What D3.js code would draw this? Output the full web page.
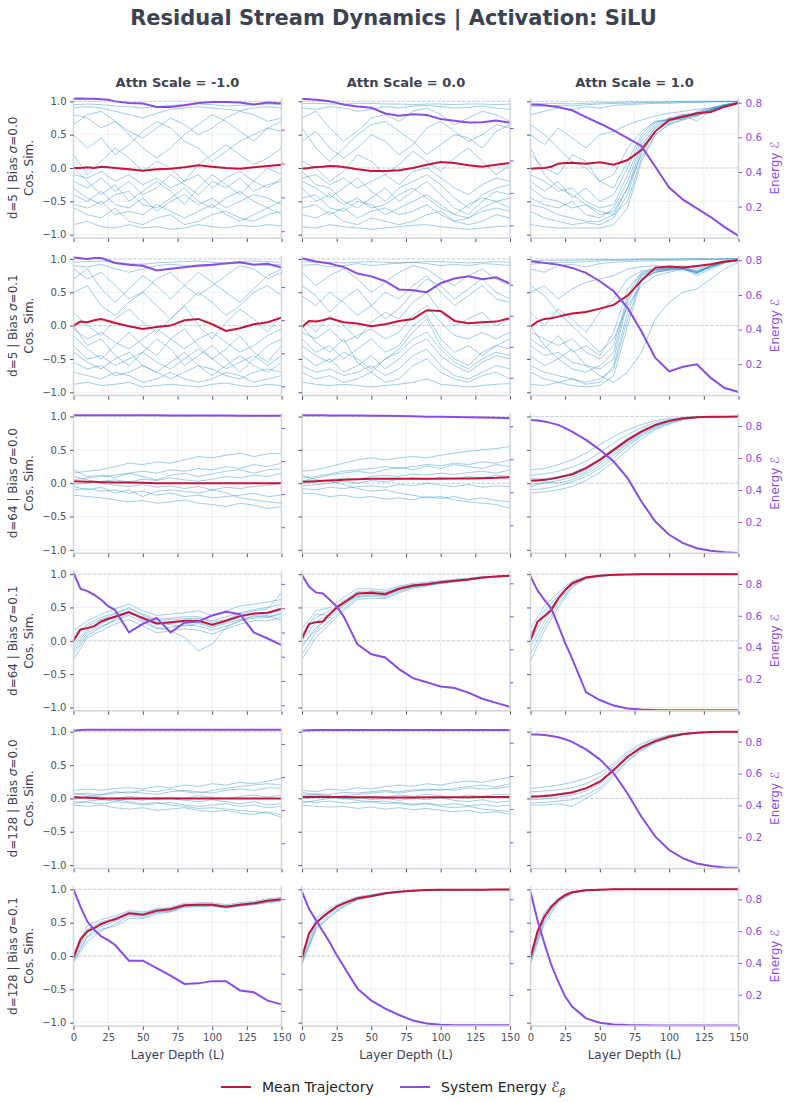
<!DOCTYPE html>
<html>
<head>
<meta charset="utf-8">
<script src="https://cdn.jsdelivr.net/npm/d3@7"></script>
<style>
  body { margin: 0; background: #fff; }
  svg { display: block; font-family: "DejaVu Sans", sans-serif; }
</style>
</head>
<body>
<div id="chart"></div>
<script>
// ---- data ----
const rowDims = [5, 5, 64, 64, 128, 128];
const rowSigmas = ["0.0", "0.1", "0.0", "0.1", "0.0", "0.1"];
const attnScales = ["-1.0", "0.0", "1.0"];
const xTicks = [0, 25, 50, 75, 100, 125, 150];
const yTicks = [-1, -0.5, 0, 0.5, 1];

// layers used by the mean / energy curves
const layers = [0, 5, 10, 15, 20, 25, 30, 40, 50, 60, 70, 80, 90, 100, 110, 120, 130, 140, 150];
// layers used by the individual token trajectories
const trajLayers = [0, 10, 20, 30, 40, 50, 60, 70, 80, 90, 100, 110, 120, 130, 140, 150];

// mean cosine similarity, one array per column (attn -1, 0, 1)
const mean_d5_s0 = [
  [0.0, 0.0, 0.01, 0.0, 0.02, 0.01, 0.0, -0.02, -0.04, -0.02, -0.01, 0.01, 0.04, 0.02, 0.0, -0.01, 0.01, 0.03, 0.05],
  [-0.01, 0.0, 0.015, 0.02, 0.03, 0.025, 0.015, -0.02, -0.045, -0.045, -0.035, 0.0, 0.05, 0.09, 0.075, 0.04, 0.02, 0.05, 0.075],
  [-0.01, -0.005, 0.0, 0.02, 0.065, 0.075, 0.08, 0.065, 0.085, 0.05, 0.12, 0.27, 0.55, 0.72, 0.77, 0.82, 0.84, 0.92, 0.975]
];
const mean_d5_s1 = [
  [0.0, 0.06, 0.05, 0.08, 0.1, 0.07, 0.04, -0.01, -0.05, -0.02, 0.0, 0.08, 0.1, 0.02, -0.08, -0.04, 0.02, 0.05, 0.12],
  [-0.02, 0.07, 0.06, 0.08, 0.11, 0.08, 0.05, 0.03, -0.01, 0.02, 0.07, 0.1, 0.23, 0.22, 0.07, 0.035, 0.05, 0.06, 0.11],
  [-0.015, 0.06, 0.1, 0.11, 0.135, 0.16, 0.18, 0.205, 0.255, 0.31, 0.45, 0.675, 0.87, 0.885, 0.87, 0.895, 0.92, 0.96, 0.98]
];
const mean_d64_s0 = [
  [0.03, 0.025, 0.02, 0.02, 0.015, 0.015, 0.01, 0.01, 0.005, 0.0, 0.0, 0.0, 0.0, 0.0, 0.0, 0.0, 0.0, 0.0, 0.0],
  [0.02, 0.025, 0.03, 0.035, 0.04, 0.045, 0.05, 0.06, 0.065, 0.065, 0.065, 0.065, 0.065, 0.065, 0.07, 0.07, 0.075, 0.08, 0.09],
  [0.035, 0.04, 0.05, 0.065, 0.085, 0.11, 0.135, 0.225, 0.35, 0.5, 0.65, 0.775, 0.875, 0.935, 0.975, 0.99, 0.997, 0.998, 1.0]
];
const mean_d64_s1 = [
  [0.0, 0.17, 0.19, 0.22, 0.29, 0.33, 0.36, 0.43, 0.34, 0.26, 0.28, 0.3, 0.3, 0.24, 0.3, 0.37, 0.41, 0.42, 0.48],
  [0.035, 0.25, 0.28, 0.29, 0.4, 0.5, 0.57, 0.71, 0.72, 0.7, 0.78, 0.83, 0.85, 0.88, 0.9, 0.92, 0.95, 0.965, 0.975],
  [0.01, 0.285, 0.37, 0.46, 0.635, 0.76, 0.86, 0.95, 0.975, 0.99, 0.995, 0.998, 0.999, 1, 1, 1, 1, 1, 1]
];
const mean_d128_s0 = [
  [0.02, 0.015, 0.01, 0.005, 0.0, 0.0, 0.0, 0.0, 0.0, 0.0, 0.0, 0.0, 0.0, 0.0, 0.0, 0.0, 0.0, 0.0, 0.0],
  [0.02, 0.02, 0.02, 0.02, 0.02, 0.02, 0.02, 0.018, 0.016, 0.015, 0.015, 0.015, 0.016, 0.017, 0.018, 0.019, 0.02, 0.02, 0.02],
  [0.025, 0.03, 0.035, 0.045, 0.06, 0.075, 0.09, 0.15, 0.25, 0.425, 0.625, 0.765, 0.86, 0.925, 0.965, 0.985, 0.995, 1, 1]
];
const mean_d128_s1 = [
  [-0.03, 0.25, 0.37, 0.42, 0.48, 0.52, 0.55, 0.64, 0.62, 0.68, 0.7, 0.76, 0.77, 0.77, 0.74, 0.77, 0.79, 0.83, 0.85],
  [-0.03, 0.34, 0.49, 0.59, 0.665, 0.74, 0.79, 0.865, 0.9, 0.94, 0.965, 0.98, 0.99, 0.992, 0.994, 0.995, 0.995, 0.996, 0.996],
  [-0.03, 0.365, 0.59, 0.74, 0.84, 0.915, 0.955, 0.985, 0.995, 1, 1, 1, 1, 1, 1, 1, 1, 1, 1]
];

// system energy, one array per column
const energy_d5_s0 = [
  [0.983, 0.984, 0.983, 0.982, 0.98, 0.976, 0.967, 0.958, 0.954, 0.934, 0.934, 0.944, 0.957, 0.963, 0.963, 0.96, 0.948, 0.96, 0.954],
  [0.981, 0.978, 0.974, 0.97, 0.965, 0.955, 0.945, 0.932, 0.925, 0.89, 0.876, 0.885, 0.88, 0.855, 0.845, 0.834, 0.836, 0.846, 0.833],
  [0.79, 0.788, 0.785, 0.78, 0.775, 0.765, 0.756, 0.717, 0.68, 0.64, 0.595, 0.55, 0.43, 0.31, 0.24, 0.19, 0.14, 0.082, 0.031]
];
const energy_d5_s1 = [
  [0.978, 0.974, 0.97, 0.975, 0.975, 0.96, 0.945, 0.935, 0.928, 0.9, 0.91, 0.92, 0.93, 0.935, 0.943, 0.95, 0.935, 0.94, 0.918],
  [0.971, 0.96, 0.95, 0.943, 0.937, 0.925, 0.915, 0.872, 0.854, 0.823, 0.77, 0.765, 0.752, 0.81, 0.84, 0.855, 0.835, 0.848, 0.808],
  [0.794, 0.79, 0.785, 0.78, 0.775, 0.765, 0.756, 0.727, 0.679, 0.621, 0.525, 0.39, 0.236, 0.159, 0.185, 0.2, 0.121, 0.063, 0.04]
];
const energy_d64_s0 = [
  [0.877, 0.877, 0.877, 0.877, 0.876, 0.876, 0.876, 0.876, 0.876, 0.876, 0.875, 0.875, 0.875, 0.875, 0.875, 0.874, 0.874, 0.874, 0.874],
  [0.866, 0.866, 0.866, 0.866, 0.865, 0.865, 0.865, 0.865, 0.864, 0.863, 0.862, 0.86, 0.858, 0.857, 0.856, 0.855, 0.853, 0.851, 0.848],
  [0.838, 0.834, 0.828, 0.818, 0.807, 0.787, 0.765, 0.713, 0.651, 0.578, 0.474, 0.328, 0.203, 0.12, 0.068, 0.036, 0.02, 0.011, 0.007]
];
const energy_d64_s1 = [
  [0.846, 0.78, 0.77, 0.755, 0.735, 0.708, 0.692, 0.6, 0.635, 0.66, 0.6, 0.64, 0.645, 0.67, 0.685, 0.675, 0.6, 0.575, 0.548],
  [0.85, 0.78, 0.745, 0.738, 0.7, 0.66, 0.6, 0.43, 0.37, 0.35, 0.28, 0.225, 0.2, 0.175, 0.165, 0.137, 0.1, 0.075, 0.051],
  [0.849, 0.76, 0.7, 0.645, 0.54, 0.43, 0.33, 0.12, 0.07, 0.035, 0.017, 0.01, 0.007, 0.006, 0.005, 0.005, 0.005, 0.005, 0.005]
];
const energy_d128_s0 = [
  [0.88, 0.884, 0.886, 0.886, 0.886, 0.886, 0.886, 0.886, 0.886, 0.886, 0.886, 0.886, 0.886, 0.886, 0.886, 0.886, 0.886, 0.886, 0.886],
  [0.873, 0.875, 0.876, 0.876, 0.876, 0.876, 0.876, 0.876, 0.876, 0.876, 0.876, 0.876, 0.876, 0.876, 0.876, 0.876, 0.876, 0.876, 0.876],
  [0.845, 0.844, 0.841, 0.835, 0.827, 0.815, 0.799, 0.751, 0.689, 0.601, 0.475, 0.329, 0.204, 0.12, 0.068, 0.036, 0.02, 0.011, 0.007]
];
const energy_d128_s1 = [
  [0.853, 0.76, 0.68, 0.635, 0.6, 0.58, 0.554, 0.47, 0.47, 0.43, 0.39, 0.345, 0.348, 0.36, 0.36, 0.31, 0.3, 0.255, 0.235],
  [0.847, 0.74, 0.67, 0.6, 0.53, 0.45, 0.38, 0.24, 0.165, 0.115, 0.075, 0.04, 0.022, 0.014, 0.011, 0.01, 0.01, 0.01, 0.01],
  [0.848, 0.67, 0.523, 0.387, 0.282, 0.188, 0.125, 0.051, 0.024, 0.013, 0.009, 0.007, 0.006, 0.006, 0.006, 0.006, 0.006, 0.006, 0.006]
];

// limits of the energy (right) axis in each panel
const energyRange_d5_s0 = [[0.16, 0.987], [0.122, 0.985], [0.019, 0.827]];
const energyRange_d5_s1 = [[0.144, 0.99], [0.085, 0.988], [0.019, 0.827]];
const energyRange_d64_s0 = [[0.043, 0.889], [0.031, 0.879], [0.005, 0.88]];
const energyRange_d64_s1 = [[0.277, 0.854], [0.027, 0.876], [0.002, 0.883]];
const energyRange_d128_s0 = [[0.048, 0.894], [0.043, 0.886], [0.005, 0.883]];
const energyRange_d128_s1 = [[0.119, 0.871], [0.006, 0.883], [0.003, 0.884]];
const energyTicks = [0.2, 0.4, 0.6, 0.8];
const energyTicksFine = [0.3, 0.4, 0.5, 0.6, 0.7, 0.8];

// individual token trajectories (a sample of the bundle), per column
const traj_d5_s0 = [
  [
    [0.95, 0.96, 0.95, 0.93, 0.92, 0.9, 0.92, 0.94, 0.95, 0.96, 0.95, 0.93, 0.94, 0.95, 0.96, 0.95],
    [0.8, 0.75, 0.6, 0.7, 0.55, 0.45, 0.6, 0.75, 0.65, 0.5, 0.6, 0.75, 0.85, 0.8, 0.7, 0.75],
    [0.5, 0.3, 0.45, 0.2, 0.35, 0.55, 0.7, 0.6, 0.4, 0.3, 0.1, 0.25, 0.4, 0.5, 0.6, 0.55],
    [0.2, -0.1, 0.1, 0.3, 0.15, -0.05, 0.1, 0.0, -0.2, 0.05, 0.2, 0.35, 0.2, 0.05, 0.15, 0.3],
    [-0.2, -0.3, -0.15, -0.35, -0.2, -0.4, -0.3, -0.1, -0.25, -0.4, -0.2, -0.3, -0.15, -0.35, -0.25, -0.2],
    [-0.4, -0.5, -0.35, -0.55, -0.6, -0.45, -0.65, -0.5, -0.4, -0.55, -0.45, -0.6, -0.5, -0.4, -0.45, -0.55],
    [-0.6, -0.7, -0.75, -0.6, -0.8, -0.85, -0.75, -0.7, -0.85, -0.8, -0.7, -0.65, -0.75, -0.8, -0.7, -0.65],
    [-0.85, -0.8, -0.88, -0.9, -0.85, -0.9, -0.88, -0.92, -0.9, -0.85, -0.88, -0.9, -0.86, -0.88, -0.85, -0.87],
    [0.0, -0.2, -0.4, -0.25, -0.5, -0.35, -0.2, -0.35, -0.55, -0.3, -0.1, -0.25, -0.4, -0.2, 0.0, -0.1],
    [0.65, 0.8, 0.85, 0.7, 0.5, 0.3, 0.15, 0.3, 0.5, 0.65, 0.8, 0.7, 0.55, 0.4, 0.6, 0.7],
    [-0.3, -0.45, -0.55, -0.4, -0.35, -0.55, -0.6, -0.45, -0.3, -0.5, -0.6, -0.45, -0.35, -0.5, -0.6, -0.5],
    [-0.55, -0.6, -0.5, -0.7, -0.65, -0.7, -0.55, -0.65, -0.75, -0.65, -0.55, -0.7, -0.8, -0.7, -0.6, -0.7],
    [0.9, 0.92, 0.9, 0.85, 0.8, 0.75, 0.82, 0.88, 0.9, 0.92, 0.9, 0.88, 0.86, 0.9, 0.92, 0.9],
    [-0.1, -0.15, -0.05, -0.2, -0.1, -0.25, -0.15, -0.3, -0.2, -0.1, -0.3, -0.15, -0.05, -0.2, -0.3, -0.15]
  ],
  [
    [0.97, 0.97, 0.96, 0.96, 0.97, 0.97, 0.96, 0.96, 0.95, 0.96, 0.96, 0.95, 0.96, 0.96, 0.95, 0.96],
    [0.75, 0.85, 0.6, 0.4, 0.55, 0.75, 0.8, 0.7, 0.85, 0.9, 0.8, 0.65, 0.75, 0.85, 0.8, 0.7],
    [0.4, 0.55, 0.3, 0.15, 0.3, 0.5, 0.4, 0.2, 0.35, 0.6, 0.7, 0.55, 0.4, 0.5, 0.65, 0.6],
    [0.1, 0.0, -0.2, -0.05, 0.2, 0.1, -0.1, 0.05, 0.25, 0.1, -0.05, 0.15, 0.3, 0.1, -0.1, 0.05],
    [-0.2, -0.3, -0.45, -0.3, -0.15, -0.35, -0.5, -0.3, -0.2, -0.1, -0.25, -0.45, -0.6, -0.4, -0.3, -0.25],
    [-0.45, -0.4, -0.6, -0.65, -0.5, -0.55, -0.7, -0.6, -0.5, -0.4, -0.55, -0.7, -0.75, -0.6, -0.5, -0.45],
    [-0.7, -0.75, -0.65, -0.8, -0.85, -0.75, -0.8, -0.85, -0.8, -0.7, -0.65, -0.8, -0.85, -0.8, -0.7, -0.75],
    [-0.88, -0.9, -0.85, -0.88, -0.9, -0.92, -0.9, -0.88, -0.86, -0.85, -0.88, -0.9, -0.92, -0.9, -0.88, -0.87],
    [-0.05, -0.25, -0.3, -0.5, -0.6, -0.45, -0.3, -0.5, -0.35, -0.2, -0.4, -0.6, -0.7, -0.5, -0.35, -0.4],
    [0.6, 0.3, 0.1, 0.3, 0.5, 0.65, 0.7, 0.55, 0.4, 0.2, 0.35, 0.5, 0.45, 0.3, 0.55, 0.65],
    [-0.3, -0.5, -0.4, -0.55, -0.45, -0.6, -0.55, -0.4, -0.3, -0.45, -0.6, -0.7, -0.55, -0.45, -0.5, -0.6],
    [-0.6, -0.55, -0.7, -0.6, -0.75, -0.65, -0.6, -0.7, -0.65, -0.55, -0.7, -0.8, -0.75, -0.65, -0.6, -0.65],
    [0.9, 0.88, 0.92, 0.9, 0.85, 0.88, 0.92, 0.9, 0.93, 0.94, 0.92, 0.9, 0.91, 0.93, 0.9, 0.88],
    [-0.15, -0.1, -0.25, -0.15, -0.3, -0.2, -0.1, -0.25, -0.05, 0.0, -0.15, -0.3, -0.4, -0.25, -0.15, -0.2]
  ],
  [
    [0.96, 0.97, 0.97, 0.96, 0.97, 0.98, 0.98, 0.99, 0.99, 0.99, 0.99, 1.0, 1.0, 1.0, 1.0, 1.0],
    [0.8, 0.85, 0.9, 0.88, 0.92, 0.9, 0.94, 0.95, 0.96, 0.97, 0.97, 0.98, 0.98, 0.99, 0.99, 1.0],
    [0.5, 0.35, 0.6, 0.45, 0.3, 0.5, 0.55, 0.65, 0.72, 0.78, 0.82, 0.85, 0.88, 0.9, 0.95, 0.99],
    [0.2, 0.0, -0.1, 0.2, 0.1, -0.2, -0.1, 0.3, 0.55, 0.7, 0.72, 0.8, 0.78, 0.88, 0.93, 0.98],
    [-0.2, -0.35, -0.2, -0.45, -0.3, -0.5, -0.4, 0.0, 0.45, 0.68, 0.75, 0.72, 0.85, 0.9, 0.95, 0.98],
    [-0.45, -0.55, -0.6, -0.5, -0.7, -0.75, -0.6, -0.2, 0.35, 0.6, 0.72, 0.75, 0.8, 0.88, 0.94, 0.98],
    [-0.65, -0.75, -0.8, -0.85, -0.82, -0.85, -0.75, -0.4, 0.25, 0.55, 0.68, 0.78, 0.82, 0.87, 0.93, 0.98],
    [-0.85, -0.88, -0.9, -0.9, -0.9, -0.9, -0.85, -0.6, 0.1, 0.5, 0.65, 0.72, 0.78, 0.86, 0.93, 0.97],
    [0.3, -0.1, -0.3, -0.4, -0.55, -0.65, -0.7, -0.3, 0.3, 0.62, 0.75, 0.8, 0.83, 0.9, 0.95, 0.99],
    [0.65, 0.5, 0.3, 0.1, 0.0, -0.2, -0.3, 0.1, 0.5, 0.7, 0.72, 0.8, 0.7, 0.86, 0.94, 0.98],
    [-0.3, -0.45, -0.5, -0.6, -0.55, -0.7, -0.65, -0.3, 0.2, 0.55, 0.7, 0.76, 0.8, 0.87, 0.94, 0.98],
    [-0.55, -0.6, -0.7, -0.75, -0.8, -0.8, -0.7, -0.5, 0.15, 0.5, 0.66, 0.74, 0.79, 0.86, 0.93, 0.98],
    [0.92, 0.93, 0.94, 0.93, 0.95, 0.96, 0.97, 0.97, 0.98, 0.98, 0.99, 0.99, 0.99, 1.0, 1.0, 1.0],
    [-0.1, -0.2, -0.35, -0.3, -0.5, -0.6, -0.55, -0.1, 0.4, 0.65, 0.74, 0.78, 0.82, 0.88, 0.94, 0.98]
  ]
];
const traj_d5_s1 = [
  [
    [0.95, 0.96, 0.97, 0.95, 0.93, 0.92, 0.94, 0.95, 0.96, 0.97, 0.95, 0.94, 0.96, 0.97, 0.96, 0.95],
    [0.85, 0.7, 0.8, 0.6, 0.4, 0.5, 0.7, 0.8, 0.6, 0.45, 0.6, 0.75, 0.9, 0.85, 0.7, 0.8],
    [0.5, 0.6, 0.3, 0.15, 0.35, 0.5, 0.3, 0.1, 0.3, 0.5, 0.35, 0.15, 0.3, 0.5, 0.6, 0.45],
    [0.2, 0.0, -0.15, 0.1, 0.25, 0.05, -0.1, 0.1, 0.3, 0.0, -0.2, 0.05, 0.25, 0.1, -0.1, 0.15],
    [-0.15, -0.35, -0.5, -0.3, -0.1, -0.3, -0.45, -0.2, -0.05, -0.3, -0.5, -0.35, -0.15, -0.4, -0.55, -0.3],
    [-0.4, -0.55, -0.65, -0.5, -0.4, -0.6, -0.7, -0.55, -0.4, -0.6, -0.75, -0.6, -0.45, -0.6, -0.7, -0.55],
    [-0.7, -0.75, -0.8, -0.7, -0.75, -0.85, -0.8, -0.7, -0.8, -0.85, -0.8, -0.7, -0.75, -0.85, -0.8, -0.75],
    [-0.88, -0.85, -0.9, -0.88, -0.85, -0.92, -0.9, -0.88, -0.9, -0.92, -0.88, -0.86, -0.9, -0.92, -0.88, -0.9],
    [0.0, -0.3, -0.2, -0.45, -0.6, -0.4, -0.2, -0.35, -0.6, -0.45, -0.3, -0.5, -0.7, -0.5, -0.3, -0.2],
    [0.7, 0.85, 0.55, 0.35, 0.55, 0.75, 0.6, 0.4, 0.6, 0.8, 0.65, 0.5, 0.35, 0.55, 0.75, 0.85],
    [-0.3, -0.5, -0.45, -0.6, -0.5, -0.4, -0.55, -0.65, -0.5, -0.35, -0.5, -0.65, -0.55, -0.45, -0.6, -0.45],
    [-0.55, -0.65, -0.6, -0.75, -0.7, -0.6, -0.7, -0.8, -0.7, -0.6, -0.65, -0.75, -0.8, -0.7, -0.65, -0.7],
    [0.9, 0.88, 0.92, 0.85, 0.8, 0.85, 0.9, 0.92, 0.9, 0.88, 0.9, 0.92, 0.94, 0.92, 0.9, 0.92],
    [-0.05, -0.2, -0.1, -0.25, -0.35, -0.2, -0.05, -0.2, -0.35, -0.2, -0.1, -0.25, -0.4, -0.3, -0.15, -0.05]
  ],
  [
    [0.96, 0.95, 0.95, 0.94, 0.95, 0.96, 0.95, 0.94, 0.95, 0.96, 0.96, 0.95, 0.94, 0.95, 0.96, 0.95],
    [0.8, 0.6, 0.75, 0.85, 0.7, 0.5, 0.65, 0.8, 0.9, 0.85, 0.7, 0.6, 0.75, 0.85, 0.7, 0.6],
    [0.45, 0.3, 0.5, 0.35, 0.15, 0.3, 0.5, 0.4, 0.6, 0.75, 0.5, 0.3, 0.45, 0.6, 0.4, 0.35],
    [0.1, -0.1, 0.15, 0.0, -0.2, 0.05, 0.2, 0.1, 0.35, 0.5, 0.2, 0.0, 0.1, 0.2, 0.0, 0.1],
    [-0.2, -0.4, -0.3, -0.5, -0.35, -0.2, -0.4, -0.3, 0.0, 0.15, -0.2, -0.4, -0.3, -0.45, -0.3, -0.2],
    [-0.45, -0.6, -0.5, -0.7, -0.6, -0.45, -0.65, -0.5, -0.3, -0.2, -0.45, -0.6, -0.7, -0.55, -0.45, -0.5],
    [-0.7, -0.8, -0.75, -0.85, -0.8, -0.7, -0.85, -0.8, -0.6, -0.5, -0.7, -0.8, -0.85, -0.75, -0.7, -0.8],
    [-0.85, -0.88, -0.9, -0.88, -0.9, -0.92, -0.9, -0.88, -0.85, -0.8, -0.88, -0.9, -0.92, -0.9, -0.88, -0.87],
    [0.0, -0.25, -0.4, -0.2, -0.55, -0.7, -0.5, -0.35, -0.1, 0.1, -0.3, -0.5, -0.6, -0.4, -0.3, -0.35],
    [0.6, 0.45, 0.2, 0.4, 0.55, 0.3, 0.1, 0.25, 0.5, 0.7, 0.6, 0.4, 0.55, 0.7, 0.5, 0.4],
    [-0.3, -0.45, -0.55, -0.4, -0.5, -0.65, -0.5, -0.4, -0.2, -0.1, -0.35, -0.55, -0.65, -0.5, -0.4, -0.45],
    [-0.6, -0.7, -0.65, -0.75, -0.7, -0.6, -0.75, -0.65, -0.45, -0.35, -0.6, -0.75, -0.8, -0.7, -0.6, -0.65],
    [0.9, 0.92, 0.88, 0.9, 0.93, 0.9, 0.92, 0.94, 0.95, 0.93, 0.9, 0.92, 0.9, 0.93, 0.92, 0.9],
    [-0.1, -0.2, -0.05, -0.25, -0.15, -0.05, -0.2, -0.1, 0.15, 0.3, 0.05, -0.15, -0.2, -0.1, -0.2, -0.1]
  ],
  [
    [0.97, 0.98, 0.98, 0.98, 0.99, 0.99, 0.99, 0.99, 1.0, 1.0, 1.0, 1.0, 1.0, 1.0, 1.0, 1.0],
    [0.85, 0.8, 0.9, 0.92, 0.88, 0.93, 0.95, 0.96, 0.97, 0.97, 0.98, 0.98, 0.99, 0.99, 1.0, 1.0],
    [0.5, 0.6, 0.4, 0.55, 0.65, 0.7, 0.75, 0.85, 0.88, 0.9, 0.88, 0.9, 0.85, 0.92, 0.96, 0.99],
    [0.2, 0.0, 0.25, 0.1, -0.1, 0.2, 0.4, 0.7, 0.82, 0.85, 0.87, 0.86, 0.8, 0.9, 0.96, 0.99],
    [-0.2, -0.35, -0.15, -0.4, -0.3, -0.45, -0.1, 0.55, 0.78, 0.84, 0.86, 0.88, 0.82, 0.9, 0.95, 0.99],
    [-0.45, -0.6, -0.5, -0.65, -0.7, -0.6, -0.4, 0.4, 0.75, 0.82, 0.85, 0.87, 0.78, 0.9, 0.95, 0.99],
    [-0.7, -0.8, -0.85, -0.8, -0.88, -0.85, -0.6, 0.2, 0.72, 0.8, 0.84, 0.85, 0.8, 0.88, 0.95, 0.98],
    [-0.88, -0.9, -0.85, -0.9, -0.92, -0.9, -0.75, 0.0, 0.68, 0.8, 0.83, 0.84, 0.8, 0.87, 0.94, 0.98],
    [0.0, -0.3, -0.5, -0.35, -0.6, -0.75, -0.85, -0.7, -0.4, 0.1, 0.35, 0.5, 0.55, 0.7, 0.85, 0.95],
    [0.6, 0.45, 0.2, 0.0, -0.2, -0.4, -0.2, 0.3, 0.6, 0.75, 0.8, 0.85, 0.75, 0.85, 0.94, 0.98],
    [-0.3, -0.45, -0.4, -0.55, -0.6, -0.65, -0.5, 0.35, 0.76, 0.83, 0.85, 0.86, 0.8, 0.89, 0.95, 0.99],
    [-0.6, -0.7, -0.75, -0.8, -0.85, -0.8, -0.65, 0.1, 0.7, 0.8, 0.84, 0.85, 0.78, 0.88, 0.95, 0.98],
    [0.92, 0.94, 0.95, 0.95, 0.96, 0.97, 0.98, 0.98, 0.99, 0.99, 0.99, 1.0, 1.0, 1.0, 1.0, 1.0],
    [-0.1, -0.2, -0.3, -0.2, -0.4, -0.5, -0.3, 0.45, 0.8, 0.84, 0.86, 0.87, 0.82, 0.9, 0.95, 0.99]
  ]
];
const traj_d64_s0 = [
  [
    [0.15, 0.18, 0.2, 0.25, 0.3, 0.28, 0.32, 0.3, 0.35, 0.4, 0.38, 0.42, 0.45, 0.4, 0.44, 0.45],
    [0.05, 0.08, 0.1, 0.12, 0.15, 0.18, 0.15, 0.2, 0.18, 0.22, 0.2, 0.25, 0.22, 0.28, 0.25, 0.3],
    [-0.02, 0.0, 0.03, 0.05, 0.02, 0.06, 0.04, 0.08, 0.05, 0.03, 0.06, 0.1, 0.08, 0.12, 0.1, 0.15],
    [-0.1, -0.08, -0.12, -0.1, -0.15, -0.12, -0.18, -0.15, -0.2, -0.18, -0.22, -0.2, -0.18, -0.15, -0.2, -0.18],
    [0.1, 0.05, 0.0, -0.03, -0.05, -0.02, -0.06, -0.04, -0.08, -0.05, -0.1, -0.06, -0.08, -0.05, -0.03, 0.0],
    [-0.18, -0.2, -0.22, -0.25, -0.28, -0.26, -0.3, -0.28, -0.25, -0.3, -0.32, -0.35, -0.3, -0.33, -0.38, -0.35],
    [0.2, 0.1, 0.12, 0.08, 0.15, 0.1, 0.05, 0.12, 0.15, 0.1, 0.14, 0.18, 0.2, 0.15, 0.2, 0.22],
    [-0.05, -0.1, -0.06, -0.15, -0.1, -0.2, -0.12, -0.1, -0.12, -0.15, -0.1, -0.14, -0.22, -0.25, -0.28, -0.3]
  ],
  [
    [0.18, 0.2, 0.25, 0.3, 0.35, 0.38, 0.35, 0.38, 0.4, 0.38, 0.42, 0.45, 0.48, 0.5, 0.52, 0.55],
    [0.08, 0.1, 0.14, 0.18, 0.2, 0.22, 0.25, 0.22, 0.25, 0.28, 0.26, 0.3, 0.28, 0.32, 0.3, 0.35],
    [0.0, 0.02, 0.05, 0.08, 0.06, 0.1, 0.12, 0.1, 0.14, 0.12, 0.15, 0.13, 0.16, 0.18, 0.15, 0.2],
    [-0.08, -0.1, -0.06, -0.08, -0.05, -0.04, -0.06, -0.02, -0.04, 0.0, -0.03, -0.05, -0.02, -0.06, -0.04, -0.05],
    [-0.15, -0.16, -0.2, -0.18, -0.22, -0.2, -0.24, -0.22, -0.25, -0.2, -0.23, -0.2, -0.25, -0.22, -0.26, -0.28],
    [0.12, 0.05, 0.03, -0.02, -0.08, -0.12, -0.1, -0.15, -0.18, -0.22, -0.2, -0.25, -0.28, -0.3, -0.32, -0.38],
    [0.03, 0.08, 0.12, 0.15, 0.18, 0.15, 0.2, 0.24, 0.2, 0.26, 0.22, 0.28, 0.25, 0.22, 0.28, 0.25],
    [-0.04, -0.02, 0.0, 0.03, 0.0, 0.04, 0.02, 0.06, 0.08, 0.05, 0.09, 0.06, 0.1, 0.08, 0.12, 0.1]
  ],
  [
    [0.2, 0.22, 0.28, 0.35, 0.45, 0.58, 0.7, 0.8, 0.88, 0.94, 0.97, 0.985, 0.995, 0.998, 1, 1],
    [0.12, 0.14, 0.18, 0.24, 0.33, 0.46, 0.6, 0.73, 0.83, 0.91, 0.95, 0.98, 0.99, 0.997, 1, 1],
    [0.05, 0.07, 0.1, 0.15, 0.24, 0.37, 0.52, 0.67, 0.79, 0.88, 0.94, 0.975, 0.99, 0.997, 1, 1],
    [-0.02, 0.0, 0.04, 0.09, 0.17, 0.3, 0.45, 0.6, 0.74, 0.85, 0.92, 0.965, 0.985, 0.995, 0.998, 1],
    [-0.1, -0.08, -0.04, 0.02, 0.1, 0.22, 0.38, 0.55, 0.7, 0.82, 0.9, 0.96, 0.985, 0.995, 0.998, 1],
    [-0.15, -0.13, -0.1, -0.05, 0.04, 0.16, 0.32, 0.5, 0.66, 0.8, 0.89, 0.95, 0.98, 0.993, 0.998, 1],
    [0.08, 0.04, 0.08, 0.12, 0.2, 0.34, 0.48, 0.62, 0.76, 0.86, 0.93, 0.97, 0.988, 0.996, 1, 1],
    [-0.06, 0.02, 0.0, 0.05, 0.14, 0.26, 0.42, 0.58, 0.72, 0.84, 0.92, 0.965, 0.985, 0.995, 0.998, 1]
  ]
];
const traj_d64_s1 = [
  [
    [0.15, 0.3, 0.4, 0.48, 0.55, 0.45, 0.38, 0.4, 0.42, 0.45, 0.38, 0.45, 0.52, 0.55, 0.58, 0.62],
    [0.05, 0.25, 0.35, 0.42, 0.48, 0.4, 0.32, 0.34, 0.36, 0.36, 0.3, 0.36, 0.42, 0.47, 0.5, 0.55],
    [-0.05, 0.18, 0.28, 0.35, 0.42, 0.32, 0.24, 0.26, 0.28, 0.28, 0.22, 0.28, 0.35, 0.4, 0.4, 0.46],
    [-0.15, 0.12, 0.22, 0.3, 0.38, 0.28, 0.18, 0.2, 0.24, 0.22, 0.16, 0.22, 0.3, 0.34, 0.35, 0.4],
    [-0.28, 0.05, 0.15, 0.25, 0.32, 0.22, 0.12, 0.15, 0.18, 0.16, 0.1, 0.18, 0.25, 0.3, 0.3, 0.35],
    [-0.1, 0.15, 0.25, 0.38, 0.45, 0.3, 0.2, 0.15, 0.05, -0.15, -0.05, 0.2, 0.3, 0.38, 0.36, 0.42],
    [0.1, 0.22, 0.32, 0.4, 0.5, 0.38, 0.3, 0.32, 0.33, 0.34, 0.28, 0.32, 0.4, 0.45, 0.48, 0.72],
    [-0.2, 0.08, 0.2, 0.32, 0.4, 0.36, 0.28, 0.24, 0.22, 0.26, 0.2, 0.26, 0.32, 0.36, 0.38, 0.3]
  ],
  [
    [0.18, 0.45, 0.5, 0.65, 0.78, 0.78, 0.76, 0.82, 0.86, 0.88, 0.9, 0.92, 0.94, 0.96, 0.97, 0.98],
    [0.08, 0.35, 0.45, 0.6, 0.74, 0.75, 0.73, 0.8, 0.84, 0.86, 0.89, 0.91, 0.93, 0.955, 0.967, 0.978],
    [0.0, 0.28, 0.4, 0.56, 0.71, 0.72, 0.7, 0.78, 0.83, 0.85, 0.88, 0.9, 0.92, 0.95, 0.965, 0.975],
    [-0.1, 0.2, 0.35, 0.52, 0.68, 0.7, 0.68, 0.76, 0.81, 0.84, 0.87, 0.89, 0.915, 0.945, 0.962, 0.972],
    [-0.2, 0.12, 0.3, 0.48, 0.65, 0.67, 0.65, 0.74, 0.8, 0.83, 0.86, 0.89, 0.91, 0.94, 0.96, 0.97],
    [-0.28, 0.05, 0.25, 0.45, 0.62, 0.64, 0.63, 0.72, 0.79, 0.82, 0.86, 0.88, 0.91, 0.94, 0.96, 0.97],
    [0.1, 0.4, 0.38, 0.54, 0.7, 0.74, 0.72, 0.79, 0.84, 0.86, 0.88, 0.905, 0.925, 0.95, 0.965, 0.975],
    [-0.05, 0.15, 0.42, 0.58, 0.66, 0.69, 0.67, 0.77, 0.82, 0.84, 0.87, 0.9, 0.92, 0.948, 0.964, 0.975]
  ],
  [
    [0.18, 0.52, 0.72, 0.9, 0.96, 0.985, 0.995, 0.998, 1, 1, 1, 1, 1, 1, 1, 1],
    [0.1, 0.45, 0.68, 0.88, 0.955, 0.98, 0.99, 0.996, 1, 1, 1, 1, 1, 1, 1, 1],
    [0.0, 0.38, 0.64, 0.86, 0.95, 0.975, 0.99, 0.995, 0.998, 1, 1, 1, 1, 1, 1, 1],
    [-0.1, 0.3, 0.6, 0.84, 0.945, 0.972, 0.988, 0.995, 0.998, 1, 1, 1, 1, 1, 1, 1],
    [-0.2, 0.22, 0.55, 0.82, 0.94, 0.97, 0.985, 0.994, 0.998, 1, 1, 1, 1, 1, 1, 1],
    [-0.3, 0.15, 0.5, 0.8, 0.93, 0.968, 0.985, 0.994, 0.998, 1, 1, 1, 1, 1, 1, 1]
  ]
];
const traj_d128_s0 = [
  [
    [0.12, 0.14, 0.12, 0.15, 0.16, 0.14, 0.18, 0.16, 0.2, 0.18, 0.22, 0.2, 0.24, 0.22, 0.26, 0.3],
    [0.06, 0.08, 0.05, 0.08, 0.1, 0.08, 0.06, 0.1, 0.12, 0.1, 0.08, 0.12, 0.14, 0.12, 0.16, 0.15],
    [0.0, 0.02, -0.02, 0.0, 0.03, 0.01, -0.02, 0.02, 0.0, 0.04, 0.02, 0.0, 0.03, 0.05, 0.02, 0.05],
    [-0.05, -0.06, -0.08, -0.05, -0.07, -0.1, -0.08, -0.06, -0.1, -0.12, -0.1, -0.08, -0.12, -0.1, -0.14, -0.12],
    [-0.1, -0.12, -0.1, -0.14, -0.16, -0.14, -0.18, -0.16, -0.14, -0.18, -0.2, -0.18, -0.22, -0.24, -0.2, -0.25],
    [0.08, 0.05, 0.02, -0.02, -0.05, -0.08, -0.06, -0.1, -0.12, -0.15, -0.14, -0.16, -0.18, -0.2, -0.22, -0.28],
    [-0.02, 0.03, 0.06, 0.1, 0.08, 0.12, 0.1, 0.14, 0.1, 0.08, 0.12, 0.15, 0.18, 0.2, 0.22, 0.2],
    [-0.08, -0.04, -0.02, -0.04, 0.0, -0.03, 0.02, 0.0, -0.03, -0.05, -0.02, -0.05, -0.08, -0.05, -0.1, -0.08]
  ],
  [
    [0.12, 0.1, 0.14, 0.12, 0.16, 0.14, 0.18, 0.2, 0.18, 0.22, 0.2, 0.24, 0.26, 0.24, 0.28, 0.32],
    [0.05, 0.07, 0.06, 0.09, 0.08, 0.1, 0.12, 0.1, 0.13, 0.12, 0.14, 0.12, 0.16, 0.14, 0.15, 0.18],
    [0.0, 0.01, 0.03, 0.02, 0.0, 0.03, 0.02, 0.05, 0.03, 0.06, 0.04, 0.02, 0.05, 0.03, 0.06, 0.05],
    [-0.04, -0.06, -0.04, -0.07, -0.06, -0.05, -0.08, -0.06, -0.09, -0.07, -0.1, -0.08, -0.11, -0.09, -0.12, -0.1],
    [-0.1, -0.12, -0.13, -0.12, -0.15, -0.13, -0.16, -0.14, -0.17, -0.15, -0.18, -0.2, -0.18, -0.22, -0.2, -0.24],
    [0.09, 0.06, 0.04, 0.0, -0.03, -0.05, -0.04, -0.08, -0.1, -0.08, -0.12, -0.14, -0.12, -0.16, -0.18, -0.2],
    [-0.07, -0.03, 0.0, 0.04, 0.06, 0.08, 0.1, 0.08, 0.11, 0.14, 0.12, 0.15, 0.18, 0.2, 0.17, 0.22],
    [0.03, 0.05, 0.02, -0.01, 0.02, -0.02, 0.0, -0.03, 0.0, -0.02, 0.01, -0.03, -0.05, -0.02, -0.06, -0.04]
  ],
  [
    [0.15, 0.17, 0.2, 0.24, 0.3, 0.38, 0.52, 0.7, 0.82, 0.9, 0.95, 0.975, 0.99, 0.997, 1, 1],
    [0.1, 0.11, 0.13, 0.16, 0.22, 0.32, 0.48, 0.67, 0.79, 0.88, 0.94, 0.97, 0.988, 0.996, 1, 1],
    [0.04, 0.05, 0.07, 0.1, 0.16, 0.26, 0.44, 0.63, 0.77, 0.86, 0.93, 0.965, 0.985, 0.995, 1, 1],
    [-0.02, -0.01, 0.02, 0.05, 0.11, 0.22, 0.4, 0.6, 0.75, 0.85, 0.92, 0.96, 0.983, 0.995, 1, 1],
    [-0.07, -0.06, -0.04, -0.02, 0.05, 0.16, 0.36, 0.57, 0.73, 0.84, 0.91, 0.955, 0.98, 0.994, 1, 1],
    [-0.1, -0.1, -0.08, -0.12, 0.0, 0.12, 0.33, 0.55, 0.72, 0.83, 0.91, 0.955, 0.98, 0.994, 1, 1]
  ]
];
const traj_d128_s1 = [
  [
    [0.05, 0.45, 0.55, 0.6, 0.68, 0.66, 0.71, 0.73, 0.79, 0.8, 0.8, 0.77, 0.8, 0.82, 0.86, 0.88],
    [0.0, 0.4, 0.51, 0.57, 0.66, 0.64, 0.7, 0.72, 0.77, 0.78, 0.78, 0.75, 0.78, 0.8, 0.84, 0.86],
    [-0.03, 0.36, 0.48, 0.55, 0.64, 0.62, 0.68, 0.7, 0.76, 0.77, 0.77, 0.74, 0.77, 0.79, 0.83, 0.85],
    [-0.06, 0.3, 0.44, 0.52, 0.62, 0.6, 0.66, 0.68, 0.75, 0.76, 0.76, 0.73, 0.76, 0.78, 0.82, 0.84],
    [-0.1, 0.22, 0.38, 0.48, 0.6, 0.58, 0.65, 0.67, 0.74, 0.75, 0.75, 0.72, 0.75, 0.77, 0.81, 0.83],
    [-0.08, 0.28, 0.4, 0.45, 0.56, 0.56, 0.63, 0.66, 0.73, 0.74, 0.75, 0.72, 0.75, 0.77, 0.8, 0.82]
  ],
  [
    [0.05, 0.56, 0.72, 0.82, 0.89, 0.92, 0.95, 0.97, 0.985, 0.992, 0.995, 0.996, 0.997, 0.997, 0.998, 0.998],
    [0.0, 0.52, 0.69, 0.8, 0.875, 0.91, 0.945, 0.967, 0.982, 0.99, 0.993, 0.995, 0.996, 0.996, 0.997, 0.997],
    [-0.04, 0.48, 0.66, 0.79, 0.865, 0.9, 0.94, 0.965, 0.98, 0.99, 0.992, 0.994, 0.995, 0.995, 0.996, 0.996],
    [-0.08, 0.43, 0.63, 0.77, 0.855, 0.895, 0.935, 0.962, 0.978, 0.988, 0.991, 0.993, 0.994, 0.995, 0.996, 0.996],
    [-0.12, 0.38, 0.6, 0.75, 0.845, 0.89, 0.93, 0.96, 0.976, 0.987, 0.99, 0.993, 0.994, 0.995, 0.996, 0.996],
    [-0.1, 0.42, 0.58, 0.74, 0.84, 0.885, 0.93, 0.958, 0.975, 0.986, 0.99, 0.992, 0.994, 0.995, 0.996, 0.996]
  ],
  [
    [0.05, 0.66, 0.87, 0.965, 0.99, 0.997, 1, 1, 1, 1, 1, 1, 1, 1, 1, 1],
    [0.0, 0.62, 0.855, 0.96, 0.988, 0.996, 1, 1, 1, 1, 1, 1, 1, 1, 1, 1],
    [-0.04, 0.58, 0.84, 0.955, 0.985, 0.995, 0.999, 1, 1, 1, 1, 1, 1, 1, 1, 1],
    [-0.08, 0.53, 0.82, 0.948, 0.983, 0.994, 0.999, 1, 1, 1, 1, 1, 1, 1, 1, 1],
    [-0.12, 0.48, 0.8, 0.94, 0.98, 0.993, 0.998, 1, 1, 1, 1, 1, 1, 1, 1, 1],
    [-0.06, 0.55, 0.83, 0.95, 0.985, 0.995, 0.999, 1, 1, 1, 1, 1, 1, 1, 1, 1]
  ]
];

const means = [mean_d5_s0, mean_d5_s1, mean_d64_s0, mean_d64_s1, mean_d128_s0, mean_d128_s1];
const energies = [energy_d5_s0, energy_d5_s1, energy_d64_s0, energy_d64_s1, energy_d128_s0, energy_d128_s1];
const energyRanges = [energyRange_d5_s0, energyRange_d5_s1, energyRange_d64_s0, energyRange_d64_s1, energyRange_d128_s0, energyRange_d128_s1];
const trajs = [traj_d5_s0, traj_d5_s1, traj_d64_s0, traj_d64_s1, traj_d128_s0, traj_d128_s1];

// ---- layout ----
const totalW = 787, totalH = 1102;
const panelW = 208, panelH = 140;
const colX = [73.5, 302, 530.5];
const rowY = r => 98 + r * 157.6;

const colTraj = "#2f92c8", colMean = "#c8143c", colEnergy = "#8a4ce6";
const colText = "#3b4252", colTick = "#4a5263", colSpine = "#d1d6dd", colGrid = "#eceff3";

const svg = d3.select("#chart").append("svg")
  .attr("width", totalW)
  .attr("height", totalH);

svg.append("rect").attr("width", totalW).attr("height", totalH).attr("fill", "#fff");

// title
svg.append("text")
  .attr("x", totalW / 2).attr("y", 25)
  .attr("text-anchor", "middle")
  .attr("font-size", 21).attr("font-weight", "bold")
  .attr("fill", colText)
  .text("Residual Stream Dynamics | Activation: SiLU");

const fmt1 = d3.format(".1f");

rowDims.forEach((dim, r) => {
  attnScales.forEach((attn, c) => {
    const g = svg.append("g").attr("transform", `translate(${colX[c]},${rowY(r)})`);

    const x = d3.scaleLinear().domain([0, 150]).range([0, panelW]);
    const y = d3.scaleLinear().domain([-1.05, 1.05]).range([panelH, 0]);
    const yE = d3.scaleLinear().domain(energyRanges[r][c]).range([panelH, 0]);

    // grid
    g.selectAll(".gx").data(xTicks).join("line")
      .attr("x1", d => x(d)).attr("x2", d => x(d))
      .attr("y1", 0).attr("y2", panelH)
      .attr("stroke", colGrid).attr("stroke-width", 0.9);
    g.selectAll(".gy").data(yTicks).join("line")
      .attr("x1", 0).attr("x2", panelW)
      .attr("y1", d => y(d)).attr("y2", d => y(d))
      .attr("stroke", colGrid).attr("stroke-width", 0.9);

    // reference lines at 0 and 1
    g.selectAll(".ref").data([0, 1]).join("line")
      .attr("x1", 0).attr("x2", panelW)
      .attr("y1", d => y(d)).attr("y2", d => y(d))
      .attr("stroke", "#c9d1da").attr("stroke-width", 1)
      .attr("stroke-dasharray", "3,2");

    // token trajectories
    const lineT = d3.line().x((d, i) => x(trajLayers[i])).y(d => y(d));
    g.selectAll(".traj").data(trajs[r][c]).join("path")
      .attr("d", lineT)
      .attr("fill", "none")
      .attr("stroke", colTraj)
      .attr("stroke-width", 1)
      .attr("stroke-opacity", 0.45);

    // mean trajectory
    const lineM = d3.line().x((d, i) => x(layers[i])).y(d => y(d));
    g.append("path")
      .datum(means[r][c])
      .attr("d", lineM)
      .attr("fill", "none")
      .attr("stroke", colMean)
      .attr("stroke-width", 2);

    // energy on twin axis
    const lineE = d3.line().x((d, i) => x(layers[i])).y(d => yE(d));
    g.append("path")
      .datum(energies[r][c])
      .attr("d", lineE)
      .attr("fill", "none")
      .attr("stroke", colEnergy)
      .attr("stroke-width", 2);

    // spines
    g.append("line").attr("x1", 0).attr("x2", 0).attr("y1", 0).attr("y2", panelH)
      .attr("stroke", colSpine).attr("stroke-width", 1.5);
    g.append("line").attr("x1", panelW).attr("x2", panelW).attr("y1", 0).attr("y2", panelH)
      .attr("stroke", colSpine).attr("stroke-width", 1.5);
    g.append("line").attr("x1", 0).attr("x2", panelW).attr("y1", panelH).attr("y2", panelH)
      .attr("stroke", colSpine).attr("stroke-width", 1.5);

    // left axis
    const ay = g.append("g")
      .call(d3.axisLeft(y).tickValues(yTicks).tickSize(3.5).tickPadding(3.5)
        .tickFormat(c === 0 ? fmt1 : ""));
    ay.select(".domain").remove();
    ay.selectAll("line").attr("stroke", colText).attr("stroke-width", 0.9);
    ay.selectAll("text").attr("fill", colTick).attr("font-size", 10).attr("font-family", "DejaVu Sans");

    // bottom axis
    const ax = g.append("g").attr("transform", `translate(0,${panelH + 0.5})`)
      .call(d3.axisBottom(x).tickValues(xTicks).tickSize(3.5).tickPadding(3.5)
        .tickFormat(r === rowDims.length - 1 ? d3.format("d") : ""));
    ax.select(".domain").remove();
    ax.selectAll("line").attr("stroke", colText).attr("stroke-width", 0.9);
    ax.selectAll("text").attr("fill", colTick).attr("font-size", 10).attr("font-family", "DejaVu Sans");

    // right (energy) axis
    const eTicks = (r === 3 && c === 0) ? energyTicksFine : energyTicks;
    const ae = g.append("g").attr("transform", `translate(${panelW},0)`)
      .call(d3.axisRight(yE).tickValues(eTicks).tickSize(3.5).tickPadding(3.5)
        .tickFormat(c === 2 ? fmt1 : ""));
    ae.select(".domain").remove();
    ae.selectAll("line").attr("stroke", colEnergy).attr("stroke-width", 1);
    ae.selectAll("text").attr("fill", colEnergy).attr("font-size", 10.5).attr("font-family", "DejaVu Sans");

    // column titles
    if (r === 0) {
      svg.append("text")
        .attr("x", colX[c] + panelW / 2).attr("y", 87)
        .attr("text-anchor", "middle")
        .attr("font-size", 13).attr("font-weight", "bold")
        .attr("fill", colText)
        .text(`Attn Scale = ${attn}`);
    }

    // x label on bottom row
    if (r === rowDims.length - 1) {
      svg.append("text")
        .attr("x", colX[c] + panelW / 2).attr("y", rowY(r) + panelH + 33)
        .attr("text-anchor", "middle")
        .attr("font-size", 12).attr("fill", colText)
        .text("Layer Depth (L)");
    }

    // row labels
    if (c === 0) {
      const cy = rowY(r) + panelH / 2;
      const t1 = svg.append("text")
        .attr("transform", `translate(16.5,${cy}) rotate(-90)`)
        .attr("text-anchor", "middle")
        .attr("font-size", 12).attr("fill", colText);
      t1.append("tspan").text(`d=${dim} | Bias `);
      t1.append("tspan").attr("font-style", "italic").text("σ");
      t1.append("tspan").text(`=${rowSigmas[r]}`);
      svg.append("text")
        .attr("transform", `translate(32.5,${cy}) rotate(-90)`)
        .attr("text-anchor", "middle")
        .attr("font-size", 12).attr("fill", colText)
        .text("Cos. Sim.");
    }

    // energy label
    if (c === 2) {
      const cy = rowY(r) + panelH / 2;
      const te = svg.append("text")
        .attr("transform", `translate(779,${cy}) rotate(-90)`)
        .attr("text-anchor", "middle")
        .attr("font-size", 12).attr("fill", colEnergy);
      te.append("tspan").text("Energy ");
      te.append("tspan").attr("font-style", "italic").text("ℰ");
    }
  });
});

// legend
const legend = svg.append("g").attr("transform", "translate(0,1087)");
legend.append("line").attr("x1", 221).attr("x2", 251).attr("y1", 0).attr("y2", 0)
  .attr("stroke", colMean).attr("stroke-width", 2);
legend.append("text").attr("x", 262).attr("y", 5)
  .attr("font-size", 14).attr("fill", "#222")
  .text("Mean Trajectory");
legend.append("line").attr("x1", 400).attr("x2", 430).attr("y1", 0).attr("y2", 0)
  .attr("stroke", colEnergy).attr("stroke-width", 2);
const lt = legend.append("text").attr("x", 441).attr("y", 5)
  .attr("font-size", 14).attr("fill", "#222");
lt.append("tspan").text("System Energy ");
lt.append("tspan").attr("font-style", "italic").text("ℰ");
lt.append("tspan").attr("font-size", 9.5).attr("dy", 3).attr("font-style", "italic").text("β");
</script>
</body>
</html>
